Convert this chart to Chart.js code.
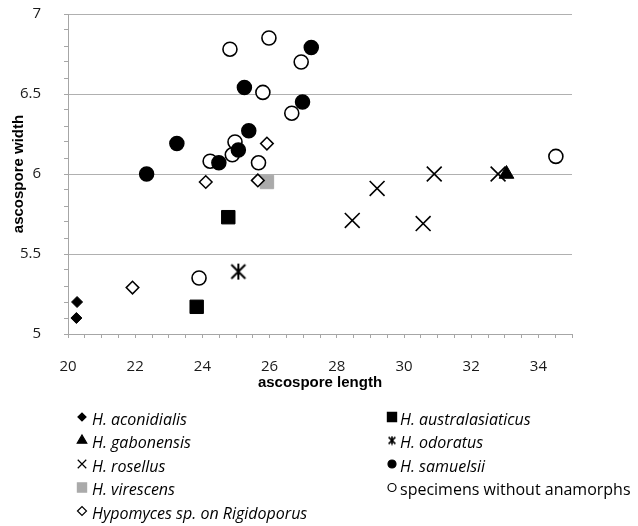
<!DOCTYPE html>
<html>
<head>
<meta charset="utf-8">
<script src="https://cdn.jsdelivr.net/npm/chart.js@4.4.1/dist/chart.umd.min.js"></script>
<style>
  html, body { margin: 0; padding: 0; background: #fff; }
  #wrap { width: 638px; height: 526px; }
</style>
</head>
<body>
<div id="wrap"><canvas id="scatterChart" width="638" height="526"></canvas></div>
<script>
// [ascospore length, ascospore width]
const aconidialis = [[20.27, 5.20], [20.25, 5.10]];
const australasiaticus = [[24.77, 5.73], [23.83, 5.17]];
const gabonensis = [[33.05, 6.00]];
const odoratus = [[25.07, 5.39]];
const rosellus = [[28.46, 5.71], [29.20, 5.91], [30.57, 5.69], [30.90, 6.00], [32.80, 6.00]];
const samuelsii = [[22.34, 6.00], [23.24, 6.19], [24.49, 6.07], [25.07, 6.15], [25.38, 6.27], [25.25, 6.54], [26.98, 6.45], [27.24, 6.79]];
const virescens = [[25.92, 5.95]];
const withoutAnamorphs = [[24.82, 6.78], [25.98, 6.85], [26.94, 6.70], [25.80, 6.51], [26.66, 6.38], [24.97, 6.20], [24.89, 6.12], [24.23, 6.08], [25.67, 6.07], [23.90, 5.35], [34.52, 6.11]];
const hypomycesRigidoporus = [[24.10, 5.95], [25.65, 5.96], [25.92, 6.19], [21.92, 5.29]];

const xRange = [20, 35];
const yRange = [5, 7];
const uprightLabels = ['specimens without anamorphs'];

function toPoints(arr) {
  return arr.map(p => ({ x: p[0], y: p[1] }));
}

// asterisk marker (X with a vertical bar)
function asterisk(size, lw) {
  const c = document.createElement('canvas');
  c.width = size; c.height = size;
  const g = c.getContext('2d');
  g.strokeStyle = '#000';
  g.lineWidth = lw;
  const a = lw, b = size - lw;
  g.beginPath();
  g.moveTo(a, a); g.lineTo(b, b);
  g.moveTo(b, a); g.lineTo(a, b);
  g.moveTo(size / 2, a * 0.5); g.lineTo(size / 2, size - a * 0.5);
  g.stroke();
  return c;
}

const datasets = [
  { label: 'H. aconidialis', data: toPoints(aconidialis), pointStyle: 'rectRot', pointRadius: 5.5, borderWidth: 1,
    backgroundColor: '#000', borderColor: '#000', legendRadius: 4 },
  { label: 'H. australasiaticus', data: toPoints(australasiaticus), pointStyle: 'rect', pointRadius: 9.5, borderWidth: 1,
    backgroundColor: '#000', borderColor: '#000', legendRadius: 6.5 },
  { label: 'H. gabonensis', data: toPoints(gabonensis), pointStyle: 'triangle', pointRadius: 8.5, borderWidth: 1,
    backgroundColor: '#000', borderColor: '#000', legendRadius: 5.5 },
  { label: 'H. odoratus', data: toPoints(odoratus), pointStyle: asterisk(18, 2), pointRadius: 9, borderWidth: 1,
    backgroundColor: '#000', borderColor: '#000', legendStyle: asterisk(10, 1.6) },
  { label: 'H. rosellus', data: toPoints(rosellus), pointStyle: 'crossRot', pointRadius: 10.5, borderWidth: 1.6,
    backgroundColor: '#000', borderColor: '#000', legendRadius: 6 },
  { label: 'H. samuelsii', data: toPoints(samuelsii), pointStyle: 'circle', pointRadius: 7, borderWidth: 1.5,
    backgroundColor: '#000', borderColor: '#000', legendRadius: 4 },
  { label: 'H. virescens', data: toPoints(virescens), pointStyle: 'rect', pointRadius: 9.5, borderWidth: 1,
    backgroundColor: '#aaaaaa', borderColor: '#aaaaaa', legendRadius: 6.5 },
  { label: 'specimens without anamorphs', data: toPoints(withoutAnamorphs), pointStyle: 'circle', pointRadius: 7, borderWidth: 1.6,
    backgroundColor: '#fff', borderColor: '#000', legendRadius: 4 },
  { label: 'Hypomyces sp. on Rigidoporus', data: toPoints(hypomycesRigidoporus), pointStyle: 'rectRot', pointRadius: 6.3, borderWidth: 1.5,
    backgroundColor: '#fff', borderColor: '#000', legendRadius: 4.5, order: -1 }
];

// two-column legend under the plot, row-major like the original
const gridLegend = {
  id: 'gridLegend',
  afterDraw(chart) {
    const ctx = chart.ctx;
    chart.data.datasets.forEach((ds, i) => {
      const col = i % 2, row = Math.floor(i / 2);
      const mx = col ? 392 : 82;
      const tx = col ? 400 : 92;
      const y = 420 + row * 23.5;
      ctx.save();
      ctx.fillStyle = ds.backgroundColor;
      ctx.strokeStyle = ds.borderColor;
      ctx.lineWidth = 1.2;
      Chart.helpers.drawPoint(ctx, {
        pointStyle: ds.legendStyle || ds.pointStyle,
        radius: ds.legendRadius || 4,
        borderWidth: 1.2,
        rotation: 0
      }, mx, y - 3);
      ctx.restore();

      ctx.save();
      const italic = uprightLabels.indexOf(ds.label) < 0;
      ctx.font = (italic ? 'italic ' : '') + '16px "Open Sans"';
      ctx.fillStyle = '#000';
      ctx.textBaseline = 'middle';
      ctx.textAlign = 'left';
      ctx.fillText(ds.label, tx, y);
      ctx.restore();
    });
  }
};

const isMajor = (v, step) => Math.abs(v / step - Math.round(v / step)) < 1e-6;

new Chart(document.getElementById('scatterChart').getContext('2d'), {
  type: 'scatter',
  data: { datasets: datasets },
  options: {
    responsive: false,
    animation: false,
    events: [],
    layout: { padding: { left: 10, right: 66, top: 14, bottom: 134 } },
    plugins: {
      legend: { display: false },
      tooltip: { enabled: false }
    },
    scales: {
      x: {
        type: 'linear',
        min: xRange[0],
        max: xRange[1],
        afterFit: s => { s.height = 58; s.paddingLeft = 0; s.paddingRight = 0; },
        border: { color: '#a6a6a6', width: 1 },
        grid: { drawOnChartArea: false, drawTicks: true, tickLength: 4, tickColor: '#a6a6a6' },
        ticks: {
          stepSize: 0.5,
          autoSkip: false,
          maxRotation: 0,
          padding: 20,
          color: '#1a1a1a',
          font: { family: 'Open Sans', size: 15 },
          callback: v => isMajor(v, 2) ? String(Math.round(v)) : ''
        },
        title: {
          display: true,
          text: 'ascospore length',
          color: '#000',
          padding: { top: 0, bottom: 0 },
          font: { family: 'Liberation Sans', size: 15, weight: 'bold' }
        }
      },
      y: {
        type: 'linear',
        min: yRange[0],
        max: yRange[1],
        afterFit: s => { s.width = 58; s.paddingTop = 0; s.paddingBottom = 0; },
        border: { color: '#a6a6a6', width: 1 },
        grid: {
          drawTicks: true,
          tickLength: 4,
          tickColor: '#a6a6a6',
          color: c => isMajor(c.tick.value, 0.5) ? '#b0b0b0' : 'rgba(0,0,0,0)'
        },
        ticks: {
          stepSize: 0.1,
          autoSkip: false,
          padding: 23,
          color: '#1a1a1a',
          font: { family: 'Open Sans', size: 15 },
          callback: v => isMajor(v, 0.5) ? String(Math.round(v * 10) / 10) : ''
        },
        title: {
          display: true,
          text: 'ascospore width',
          color: '#000',
          padding: { top: 0, bottom: 0 },
          font: { family: 'Liberation Sans', size: 15, weight: 'bold' }
        }
      }
    }
  },
  plugins: [gridLegend]
});
</script>
</body>
</html>
